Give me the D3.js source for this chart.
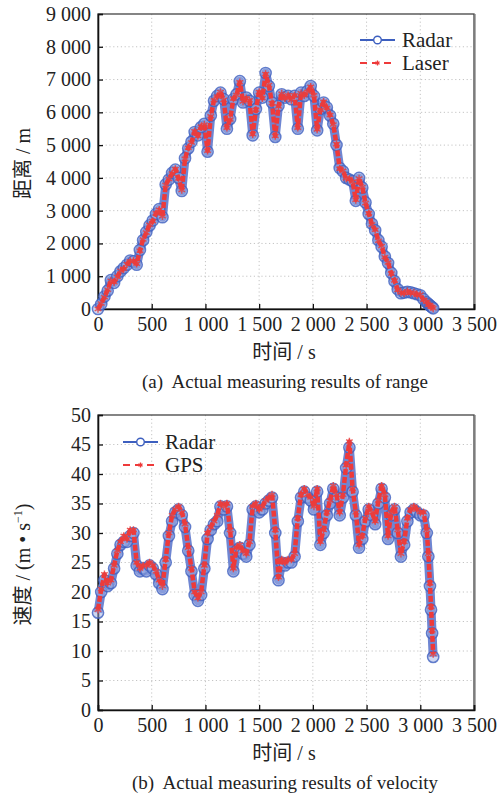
<!DOCTYPE html>
<html>
<head>
<meta charset="utf-8">
<script src="https://cdn.jsdelivr.net/npm/d3@7/dist/d3.min.js"></script>
<style>
  body { margin: 0; background: #fff; }
  svg { display: block; }
</style>
</head>
<body>
<svg id="chart" width="500" height="796"></svg>
<script>
// sample times (s)
const times = [
    0, 30, 60, 90, 120, 150, 180, 210, 240, 270,
    300, 330, 360, 390, 420, 450, 480, 510, 540, 570,
    600, 630, 660, 690, 720, 750, 780, 810, 840, 870,
    900, 930, 960, 990, 1020, 1050, 1080, 1110, 1140, 1170,
    1200, 1230, 1260, 1290, 1320, 1350, 1380, 1410, 1440, 1470,
    1500, 1530, 1560, 1590, 1620, 1650, 1680, 1710, 1740, 1770,
    1800, 1830, 1860, 1890, 1920, 1950, 1980, 2010, 2040, 2070,
    2100, 2130, 2160, 2190, 2220, 2250, 2280, 2310, 2340, 2370,
    2400, 2430, 2460, 2490, 2520, 2550, 2580, 2610, 2640, 2670,
    2700, 2730, 2760, 2790, 2820, 2850, 2880, 2910, 2940, 2970,
    3000, 3030, 3060,
    3075, 3090, 3100, 3110, 3120
]

// (a) range, m
const rangeRadar = [
    0, 150, 380, 560, 880, 800, 1000, 1150, 1250, 1350,
    1480, 1450, 1350, 1800, 2100, 2350, 2550, 2700, 2900, 3050,
    2800, 3800, 3950, 4150, 4250, 4000, 3600, 4600, 4900, 5100,
    5400, 5300, 5550, 5650, 4800, 5900, 6350, 6500, 6600, 6400,
    5500, 5800, 6400, 6550, 6950, 6300, 6450, 6350, 5300, 6100,
    6600, 6450, 7200, 6800, 6300, 5250, 6200, 6550, 6450, 6500,
    6400, 6500, 5500, 6600, 6500, 6650, 6800, 6500, 5450, 6100,
    6300, 6150, 5900, 5650, 5000, 4300, 4200, 4000, 3950, 3900,
    3300, 4000, 3700, 3250, 2900, 2600, 2400, 2100, 1900, 1600,
    1400, 1100, 850, 600, 480, 500, 520, 510, 480, 450,
    420, 300, 200,
    150, 110, 80, 50, 20
]
const rangeLaser = [
    0, 170, 360, 590, 860, 820, 980, 1170, 1230, 1370,
    1460, 1470, 1380, 1780, 2120, 2330, 2570, 2680, 2920, 3030,
    2830, 3780, 3970, 4130, 4270, 3980, 3630, 4580, 4920, 5080,
    5420, 5280, 5570, 5630, 4830, 5880, 6370, 6480, 6620, 6380,
    5530, 5780, 6420, 6530, 6920, 6330, 6430, 6370, 5330, 6080,
    6620, 6430, 7170, 6830, 6280, 5280, 6180, 6570, 6430, 6520,
    6380, 6520, 5530, 6580, 6520, 6630, 6780, 6520, 5480, 6080,
    6320, 6130, 5920, 5630, 5030, 4280, 4220, 3980, 3970, 3880,
    3330, 3980, 3720, 3230, 2920, 2580, 2420, 2080, 1920, 1580,
    1420, 1080, 870, 580, 500, 480, 540, 490, 500, 430,
    440, 280, 220,
    130, 120, 70, 60, 20
]

// (b) velocity, m/s
const speedRadar = [
    16.5, 20, 22, 21, 21.5, 24, 26.5, 28, 28.5, 28.5,
    29.5, 30, 24.5, 23.5, 24, 23.5, 24.5, 24, 23, 21.5,
    20.5, 25, 29.5, 32, 33.5, 34, 33, 31, 27, 23.5,
    19.5, 18.5, 19.5, 24, 29, 30.5, 31.5, 32, 34.5, 34,
    34.5, 30, 23.5, 27, 27.5, 26.5, 26, 28, 34, 34.5,
    33.5, 34, 35, 35.5, 36, 30, 22, 25, 24.5, 25,
    25, 26, 32, 36, 37, 36, 35.5, 34, 37, 28,
    30, 33, 35, 37.5, 36, 33, 36, 41, 44.5, 37,
    33, 27.5, 29, 32, 34, 33, 31.5, 35, 37.5, 36,
    29, 33, 34, 30, 26, 28, 32, 33.5, 34, 33.5,
    33, 33, 30,
    26, 21, 17, 13, 9
]
const speedGps = [
    17, 20.5, 23, 21.5, 22, 24.5, 27, 28.5, 29.5, 29,
    30.5, 30.5, 25, 24, 24.5, 24.5, 25, 24.5, 23.5, 22,
    21, 25.5, 30, 33, 34, 34.5, 33.5, 31.5, 27.5, 24,
    20, 19, 20, 24.5, 30, 31, 32, 33, 35, 34.5,
    35, 30.5, 24, 27.5, 28, 27, 26.5, 28.5, 34.5, 35,
    34, 34.5, 35.5, 36, 36.5, 30.5, 22.5, 25.5, 25, 25.5,
    25.5, 26.5, 32.5, 36.5, 37.5, 36.5, 36, 34.5, 37.5, 28.5,
    30.5, 33.5, 35.5, 38, 36.5, 33.5, 36.5, 41.5, 45.5, 37.5,
    33.5, 28, 29.5, 32.5, 34.5, 33.5, 32, 35.5, 38, 36.5,
    29.5, 33.5, 34.5, 30.5, 26.5, 28.5, 32.5, 34, 34.5, 34,
    33.5, 33.5, 30.5,
    26.5, 21.5, 17.5, 13.5, 9.5
]

const timeTicks = [0, 500, 1000, 1500, 2000, 2500, 3000, 3500]
const rangeTicks = [0, 1000, 2000, 3000, 4000, 5000, 6000, 7000, 8000, 9000]
const speedTicks = [0, 5, 10, 15, 20, 25, 30, 35, 40, 45, 50]

const serif = "Liberation Serif"
const cjk = "Noto Sans CJK SC"
const blue = "#3d5fbf"
const red = "#ee3a3a"

// numbers written as "1 000"
const fmt = d3.formatLocale({ decimal: ".", thousands: " ", grouping: [3], currency: ["", ""] }).format(",")

const svg = d3.select("#chart")

function drawPanel(p) {
    const left = 98, right = 474
    const x = d3.scaleLinear().domain([0, 3500]).range([left, right])
    const y = d3.scaleLinear().domain(p.yDomain).range([p.bottom, p.top])
    const g = svg.append("g")

    // dotted grid
    g.selectAll(".gx").data(timeTicks.slice(1, -1)).join("line")
        .attr("x1", d => x(d)).attr("x2", d => x(d))
        .attr("y1", p.top).attr("y2", p.bottom)
        .attr("stroke", "#c4c4c4").attr("stroke-width", 1).attr("stroke-dasharray", "1.2,2.6")
    g.selectAll(".gy").data(p.yTicks.slice(1, -1)).join("line")
        .attr("x1", left).attr("x2", right)
        .attr("y1", d => y(d)).attr("y2", d => y(d))
        .attr("stroke", "#c4c4c4").attr("stroke-width", 1).attr("stroke-dasharray", "1.2,2.6")

    // box (top / right)
    g.append("rect")
        .attr("x", left).attr("y", p.top)
        .attr("width", right - left).attr("height", p.bottom - p.top)
        .attr("fill", "none").attr("stroke", "#444").attr("stroke-width", 1.3)
    g.append("line")
        .attr("x1", right + 1).attr("x2", right + 1).attr("y1", p.top).attr("y2", p.bottom + 1)
        .attr("stroke", "#777").attr("stroke-width", 1.2)

    // axes, ticks inward
    const xAxis = g.append("g")
        .attr("transform", `translate(0,${p.bottom})`)
        .call(d3.axisBottom(x).tickValues(timeTicks).tickSize(-5).tickPadding(8).tickFormat(fmt))
    const yAxis = g.append("g")
        .attr("transform", `translate(${left},0)`)
        .call(d3.axisLeft(y).tickValues(p.yTicks).tickSize(-5).tickPadding(7).tickFormat(fmt))
    ;[xAxis, yAxis].forEach(a => {
        a.attr("font-family", serif).attr("font-size", 20)
        a.select(".domain").attr("stroke", "#111").attr("stroke-width", 1.6)
        a.selectAll(".tick line").attr("stroke", "#111").attr("stroke-width", 1.3)
        a.selectAll(".tick text")
            .attr("fill", "#222")
            .style("font-family", serif)
            .style("font-size", "20px")
    })

    const radarPts = times.map((t, i) => [t, p.radar[i]])
    const otherPts = times.map((t, i) => [t, p.other[i]])
    const line = d3.line().x(d => x(d[0])).y(d => y(d[1]))

    // radar: solid line + open circles (dense, so they merge into a band)
    g.append("path").datum(radarPts)
        .attr("d", line).attr("fill", "none")
        .attr("stroke", "#6f86d2").attr("stroke-width", 9).attr("stroke-linejoin", "round")
    g.selectAll(".rc").data(radarPts).join("circle")
        .attr("cx", d => x(d[0])).attr("cy", d => y(d[1]))
        .attr("r", 5.6)
        .attr("fill", "#9fb0e4").attr("fill-opacity", 0.5)
        .attr("stroke", blue).attr("stroke-opacity", 0.8).attr("stroke-width", 1.5)

    // second series: dashed red + asterisks
    g.append("path").datum(otherPts)
        .attr("d", line).attr("fill", "none")
        .attr("stroke", red).attr("stroke-width", 4.5).attr("stroke-dasharray", "6,2")
        .attr("stroke-linejoin", "round")
    const star = d3.symbol().type(d3.symbolAsterisk).size(40)
    g.selectAll(".oc").data(otherPts).join("path")
        .attr("d", star)
        .attr("transform", d => `translate(${x(d[0])},${y(d[1])})`)
        .attr("fill", "none").attr("stroke", "#e8403f").attr("stroke-width", 1.4).attr("stroke-opacity", 0.85)

    // legend
    const legendStar = d3.symbol().type(d3.symbolAsterisk).size(16)
    const lg = g.append("g").attr("transform", `translate(${p.legendX},${p.legendY})`)
    lg.append("line").attr("x1", 0).attr("x2", 35).attr("y1", 0).attr("y2", 0)
        .attr("stroke", blue).attr("stroke-width", 1.8)
    lg.append("circle").attr("cx", 17.5).attr("cy", 0).attr("r", 3.8)
        .attr("fill", "#fff").attr("stroke", blue).attr("stroke-width", 1.4)
    lg.append("text").attr("x", 42).attr("y", 7).text("Radar")
        .style("font-family", serif).style("font-size", "21px").attr("fill", "#222")
    lg.append("line").attr("x1", 0).attr("x2", 35).attr("y1", 23).attr("y2", 23)
        .attr("stroke", red).attr("stroke-width", 1.8).attr("stroke-dasharray", "7,5")
    lg.append("path").attr("d", legendStar).attr("transform", "translate(17.5,23)")
        .attr("fill", "none").attr("stroke", red).attr("stroke-width", 1.3)
    lg.append("text").attr("x", 42).attr("y", 30).text(p.otherName)
        .style("font-family", serif).style("font-size", "21px").attr("fill", "#222")

    // x label
    const xl = g.append("text")
        .attr("x", 284).attr("y", p.bottom + 50)
        .attr("text-anchor", "middle").attr("fill", "#222").style("font-size", "20px")
    xl.append("tspan").style("font-family", cjk).text("时间")
    xl.append("tspan").style("font-family", serif).text(" / s")

    // y label
    const yl = g.append("text")
        .attr("transform", `translate(30,${(p.top + p.bottom) / 2 + 2}) rotate(-90)`)
        .attr("text-anchor", "middle").attr("fill", "#222").style("font-size", "20px")
    yl.append("tspan").style("font-family", cjk).text(p.yName)
    p.yUnit(yl)

    // caption
    g.append("text")
        .attr("x", 285).attr("y", p.bottom + 79)
        .attr("text-anchor", "middle").attr("fill", "#222")
        .style("font-family", serif).style("font-size", "19px")
        .style("white-space", "pre").attr("xml:space", "preserve")
        .text(p.caption)
}

drawPanel({
    top: 14, bottom: 309,
    yDomain: [0, 9000], yTicks: rangeTicks,
    radar: rangeRadar, other: rangeLaser, otherName: "Laser",
    legendX: 360, legendY: 40,
    yName: "距离",
    yUnit: t => t.append("tspan").style("font-family", serif).text(" / m"),
    caption: "(a)  Actual measuring results of range"
})

drawPanel({
    top: 415, bottom: 710,
    yDomain: [0, 50], yTicks: speedTicks,
    radar: speedRadar, other: speedGps, otherName: "GPS",
    legendX: 123, legendY: 442,
    yName: "速度",
    yUnit: t => {
        t.append("tspan").style("font-family", serif).text(" / (m • s")
        t.append("tspan").style("font-family", serif).style("font-size", "12px")
            .attr("dy", -8).text("−1")
        t.append("tspan").style("font-family", serif).attr("dy", 8).text(")")
    },
    caption: "(b)  Actual measuring results of velocity"
})
</script>
</body>
</html>
